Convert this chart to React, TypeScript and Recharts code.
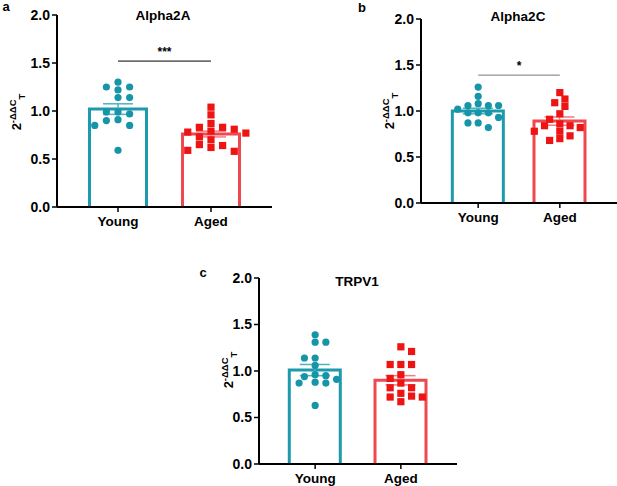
import React from "react";
import {
  ComposedChart,
  Bar,
  ErrorBar,
  Scatter,
  XAxis,
  YAxis,
  ReferenceLine,
  Label,
} from "recharts";

// groups on the x axis
const groups = ["Young", "Aged"];
const yTicks = [0, 0.5, 1.0, 1.5, 2.0];

// Alpha2A (panel a)
const a2aYoung = [1.3, 1.25, 1.25, 1.22, 1.14, 1.14, 0.99, 0.99, 0.97, 0.91, 0.9, 0.85, 0.85, 0.59];
const a2aAged = [1.04, 0.96, 0.87, 0.83, 0.83, 0.81, 0.79, 0.78, 0.77, 0.73, 0.7, 0.65, 0.64, 0.62, 0.59, 0.58];
const a2aMean = [1.02, 0.76];
const a2aSem = [0.055, 0.03];

// Alpha2C (panel b)
const a2cYoung = [1.26, 1.16, 1.08, 1.06, 1.06, 1.06, 1.02, 0.98, 0.98, 0.98, 0.93, 0.87, 0.87, 0.82];
const a2cAged = [1.2, 1.13, 1.09, 1.05, 0.97, 0.91, 0.86, 0.84, 0.84, 0.82, 0.78, 0.78, 0.73, 0.7, 0.68];
const a2cMean = [1.0, 0.89];
const a2cSem = [0.03, 0.045];

// TRPV1 (panel c)
const trpYoung = [1.39, 1.31, 1.31, 1.14, 1.14, 1.06, 0.96, 0.95, 0.94, 0.91, 0.88, 0.87, 0.87, 0.63];
const trpAged = [1.26, 1.21, 1.07, 1.07, 1.07, 0.96, 0.92, 0.87, 0.82, 0.82, 0.76, 0.73, 0.72, 0.72, 0.67];
const trpMean = [1.01, 0.9];
const trpSem = [0.06, 0.05];

const TEAL = "#1d9aac";
const TEAL_DOT = "#1795a8";
const TEAL_ERR = "#4cb3c3";
const RED = "#f0484f";
const RED_DOT = "#ee1414";
const RED_ERR = "#f37a7e";
const FONT = '"Liberation Sans", Arial, sans-serif';

// Prism-like scatter layout: points sit on half-column slots, placed from the top down,
// each as close to the centre as it can go without touching an earlier one
function swarm(values: number[], pxPerY: number, col: number, dot: number) {
  const order = values.map((_, i) => i).sort((a, b) => values[b] - values[a]);
  const placed: { x: number; y: number }[] = [];
  const out: number[] = new Array(values.length).fill(0);
  const hits = (x: number, y: number) =>
    placed.some((p) => ((p.x - x) / col) ** 2 + ((p.y - y) / dot) ** 2 < 0.999);
  for (const i of order) {
    const y = values[i] * pxPerY;
    const bias = placed.reduce((s, p) => s + p.x, 0);
    let x = 0;
    for (let k = 0; k < 20; k++) {
      const step = (k * col) / 2;
      const first = bias > 0 ? -step : step;
      if (!hits(first, y)) { x = first; break; }
      if (!hits(-first, y)) { x = -first; break; }
    }
    placed.push({ x, y });
    out[i] = x;
  }
  return out;
}

const barShape = (color: string) => (props: any) => {
  const { x, y, width, height } = props;
  if (!height || height <= 0) return <g />;
  return (
    <path
      d={`M${x},${y + height} L${x},${y} L${x + width},${y} L${x + width},${y + height}`}
      fill="none"
      stroke={color}
      strokeWidth={3}
    />
  );
};

const dotShape = (props: any) => <circle cx={props.cx} cy={props.cy} r={3.6} fill={TEAL_DOT} />;
const squareShape = (props: any) => (
  <rect x={props.cx - 3.6} y={props.cy - 3.6} width={7.2} height={7.2} fill={RED_DOT} />
);

type PanelProps = {
  left: number;
  top: number;
  width: number;
  height: number;
  margin: { top: number; right: number; bottom: number; left: number };
  pad: number;
  barSize: number;
  young: number[];
  aged: number[];
  mean: number[];
  sem: number[];
  sig?: { level: number; text: string; color: string };
};

function Panel({ left, top, width, height, margin, pad, barSize, young, aged, mean, sem, sig }: PanelProps) {
  const plotW = width - margin.left - margin.right - 40;
  const plotH = height - margin.top - margin.bottom - 30;
  const pxPerX = plotW / (1 + 2 * pad);
  const pxPerY = plotH / 2;
  const domain: [number, number] = [1 - pad, 2 + pad];

  // one row per group; each group has its own bar series so the colours can differ
  const bars = groups.map((g, i) => ({
    pos: i + 1,
    young: i === 0 ? mean[i] : null,
    youngSem: i === 0 ? sem[i] : null,
    aged: i === 1 ? mean[i] : null,
    agedSem: i === 1 ? sem[i] : null,
  }));
  const col = pxPerX * 0.125;
  const yOff = swarm(young, pxPerY, col, 7);
  const aOff = swarm(aged, pxPerY, col, 7);
  const youngPts = young.map((v, i) => ({ x: 1 + yOff[i] / pxPerX, v }));
  const agedPts = aged.map((v, i) => ({ x: 2 + aOff[i] / pxPerX, v }));

  const tick = { fill: "#000", fontSize: 14, fontWeight: 700, fontFamily: FONT };

  return (
    <div style={{ position: "absolute", left, top }}>
      <ComposedChart width={width} height={height} data={bars} margin={margin}>
        <XAxis
          xAxisId="cat"
          dataKey="pos"
          type="number"
          domain={domain}
          ticks={[1, 2]}
          allowDataOverflow
          tickFormatter={(v: number) => groups[v - 1]}
          tick={{ ...tick, fontSize: 13.5 }}
          axisLine={{ stroke: "#000", strokeWidth: 2 }}
          tickLine={{ stroke: "#000", strokeWidth: 1.5 }}
          tickSize={5}
          tickMargin={4}
          height={30}
        />
        <XAxis xAxisId="cat2" dataKey="pos" type="number" domain={domain} ticks={[1, 2]} allowDataOverflow hide />
        <XAxis xAxisId="pts" dataKey="x" type="number" domain={domain} allowDataOverflow hide />
        <YAxis
          domain={[0, 2]}
          ticks={yTicks}
          tickFormatter={(v: number) => v.toFixed(1)}
          tick={tick}
          axisLine={{ stroke: "#000", strokeWidth: 2 }}
          tickLine={{ stroke: "#000", strokeWidth: 1.5 }}
          tickSize={5}
          width={40}
          allowDataOverflow
        />
        <Bar xAxisId="cat" dataKey="young" barSize={barSize} isAnimationActive={false} shape={barShape(TEAL)}>
          <ErrorBar dataKey="youngSem" width={15} stroke={TEAL_ERR} strokeWidth={1.5} direction="y" />
        </Bar>
        <Bar xAxisId="cat2" dataKey="aged" barSize={barSize} isAnimationActive={false} shape={barShape(RED)}>
          <ErrorBar dataKey="agedSem" width={15} stroke={RED_ERR} strokeWidth={1.5} direction="y" />
        </Bar>
        <Scatter xAxisId="pts" data={youngPts} dataKey="v" shape={dotShape} isAnimationActive={false} />
        <Scatter xAxisId="pts" data={agedPts} dataKey="v" shape={squareShape} isAnimationActive={false} />
        {sig && (
          <ReferenceLine
            xAxisId="cat"
            segment={[
              { x: 1, y: sig.level },
              { x: 2, y: sig.level },
            ]}
            stroke={sig.color}
            strokeWidth={1}
          >
            <Label value={sig.text} position="top" fill="#000" fontSize={12} fontWeight={700} fontFamily={FONT} />
          </ReferenceLine>
        )}
      </ComposedChart>
    </div>
  );
}

const text = (x: number, y: number, s: string, size = 13.5) => (
  <div
    style={{
      position: "absolute",
      left: x,
      top: y,
      transform: "translate(-50%, -50%)",
      fontFamily: FONT,
      fontWeight: 700,
      fontSize: size,
      whiteSpace: "nowrap",
      lineHeight: 1,
    }}
  >
    {s}
  </div>
);

const yLabel = (x: number, y: number) => (
  <div
    style={{
      position: "absolute",
      left: x,
      top: y,
      transform: "translate(-50%, -50%) rotate(-90deg)",
      fontFamily: FONT,
      fontWeight: 700,
      fontSize: 13,
      whiteSpace: "nowrap",
      lineHeight: 1,
    }}
  >
    2<sup style={{ fontSize: 9.5 }}>-ΔΔC</sup>
    <sub style={{ fontSize: 9.5 }}>T</sub>
  </div>
);

export default function App() {
  return (
    <div
      style={{
        position: "fixed",
        left: 0,
        top: 0,
        width: 617,
        height: 486,
        background: "#fff",
        overflow: "hidden",
      }}
    >
      <Panel
        left={0}
        top={0}
        width={290}
        height={240}
        margin={{ top: 15, right: 18, bottom: 3, left: 17 }}
        pad={0.656}
        barSize={57}
        young={a2aYoung}
        aged={a2aAged}
        mean={a2aMean}
        sem={a2aSem}
        sig={{ level: 1.52, text: "***", color: "#000" }}
      />
      <Panel
        left={380}
        top={0}
        width={237}
        height={240}
        margin={{ top: 19, right: 0, bottom: 7, left: 1 }}
        pad={0.7}
        barSize={51}
        young={a2cYoung}
        aged={a2cAged}
        mean={a2cMean}
        sem={a2cSem}
        sig={{ level: 1.39, text: "*", color: "#777" }}
      />
      <Panel
        left={218}
        top={260}
        width={250}
        height={240}
        margin={{ top: 18, right: 11, bottom: 6, left: 1 }}
        pad={0.655}
        barSize={51}
        young={trpYoung}
        aged={trpAged}
        mean={trpMean}
        sem={trpSem}
      />
      {text(6, 6, "a", 13)}
      {text(362, 7, "b", 13)}
      {text(203, 272, "c", 13)}
      {text(163, 16, "Alpha2A")}
      {text(518, 17, "Alpha2C")}
      {text(357, 282, "TRPV1")}
      {yLabel(17, 112)}
      {yLabel(390, 111)}
      {yLabel(229, 370)}
    </div>
  );
}
